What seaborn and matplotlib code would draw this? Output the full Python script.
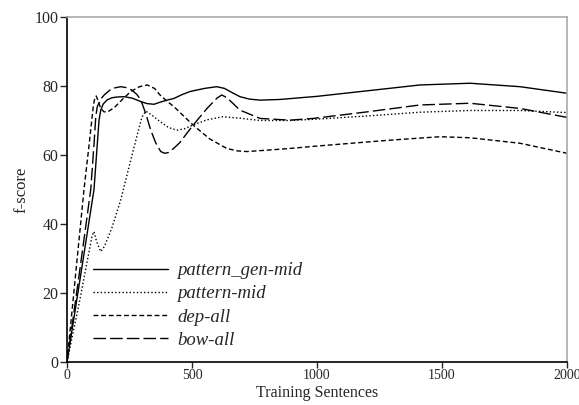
import matplotlib
matplotlib.use("Agg")
import matplotlib.pyplot as plt
import seaborn as sns
import pandas as pd

# values
gen_x = [0, 50, 108, 122, 128, 135, 145, 161, 180, 200, 228, 260, 295, 320, 348, 372, 400,
         428, 460, 492, 550, 599, 630, 660, 692, 730, 772, 852, 1000, 1200, 1412, 1612,
         1812, 2000]
gen_y = [0, 23, 50, 64, 70, 73, 74.8, 76, 76.6, 76.8, 76.9, 76.5, 75.5, 74.9, 74.7, 75.3, 75.9,
         76.4, 77.5, 78.4, 79.3, 79.8, 79.3, 78.1, 76.9, 76.2, 75.9, 76.1, 77, 78.6, 80.3,
         80.8, 79.8, 77.9]

mid_x = [0, 50, 100, 108, 118, 135, 150, 180, 215, 255, 285, 300, 315, 335, 372, 405, 439,
         470, 504, 560, 624, 700, 772, 892, 1000, 1200, 1412, 1612, 1812, 2000]
mid_y = [0, 17.5, 36.5, 37.8, 35, 32, 33.5, 39, 47, 58.5, 67, 71, 72.7, 71.8, 69.7, 68, 67.2,
         67.6, 68.7, 70.2, 71.1, 70.6, 70, 70, 70.4, 71.3, 72.4, 72.9, 72.9, 72.3]

dep_x = [0, 35, 68, 90, 105, 111, 117, 124, 135, 148, 165, 190, 220, 255, 290, 321, 350,
         372, 400, 428, 504, 570, 639, 680, 719, 800, 892, 1000, 1292, 1492, 1612, 1812, 2000]
dep_y = [0, 25.8, 50, 64, 74, 76.5, 77.1, 75.8, 73.5, 72.5, 72.6, 73.8, 76, 78.4, 79.8, 80.3,
         79.3, 77.4, 75.6, 74, 68.7, 64.7, 61.9, 61.2, 61, 61.4, 61.9, 62.6, 64.3, 65.3, 65,
         63.4, 60.5]

bow_x = [0, 50, 95, 108, 115, 121, 135, 150, 180, 215, 240, 260, 280, 295, 315, 335, 355,
         375, 390, 405, 425, 450, 505, 560, 600, 619, 640, 692, 772, 892, 985, 1200, 1412,
         1612, 1812, 2000]
bow_y = [0, 26, 50, 63, 71, 74, 76.2, 77.5, 79.3, 79.8, 79.5, 78.8, 77.5, 76, 72, 67.2, 63.5,
         61, 60.5, 60.7, 61.8, 63.5, 68.7, 73.5, 76.5, 77.4, 76.6, 73, 70.6, 70.1, 70.6, 72.5,
         74.5, 75, 73.5, 70.9]

series = [("pattern_gen-mid", gen_x, gen_y, "-"),
          ("pattern-mid", mid_x, mid_y, (0, (1, 1.6))),
          ("dep-all", dep_x, dep_y, (0, (3.5, 2))),
          ("bow-all", bow_x, bow_y, (0, (9, 3)))]

sns.set_style("ticks")
plt.rcParams["font.family"] = ["Liberation Serif", "DejaVu Serif"]

fig = plt.figure(figsize=(5.79, 4.05), dpi=100)
ax = fig.add_axes([67 / 579, 1 - 362 / 405, 500 / 579, 345 / 405])

for name, xs, ys, ls in series:
    df = pd.DataFrame({"x": xs, "y": ys})
    sns.lineplot(data=df, x="x", y="y", ax=ax, color="black", linewidth=1.0,
                 linestyle=ls, label=name, estimator=None)

ax.set_xlim(0, 2000)
ax.set_ylim(0, 100)
ax.set_xticks([0, 500, 1000, 1500, 2000])
ax.set_yticks([0, 20, 40, 60, 80, 100])
ax.tick_params(axis="x", labelsize=10, length=4, width=1, direction="out", pad=1)
ax.tick_params(axis="y", labelsize=11.5, length=5, width=1, direction="out", pad=1)
ax.set_xlabel("Training Sentences", fontsize=11.5, labelpad=2)
ax.set_ylabel("f-score", fontsize=12, labelpad=4)

for side in ["left", "bottom"]:
    ax.spines[side].set_color("black")
    ax.spines[side].set_linewidth(1.2)
for side in ["top", "right"]:
    ax.spines[side].set_color("#aaaaaa")
    ax.spines[side].set_linewidth(1.2)

leg = ax.legend(loc="upper left", bbox_to_anchor=(0.052, 0.29), frameon=False,
                prop={"style": "italic", "size": 13.5}, handlelength=4.0,
                handletextpad=0.5, labelspacing=0.33, borderpad=0, borderaxespad=0)

fig.savefig("out.png", dpi=100)
